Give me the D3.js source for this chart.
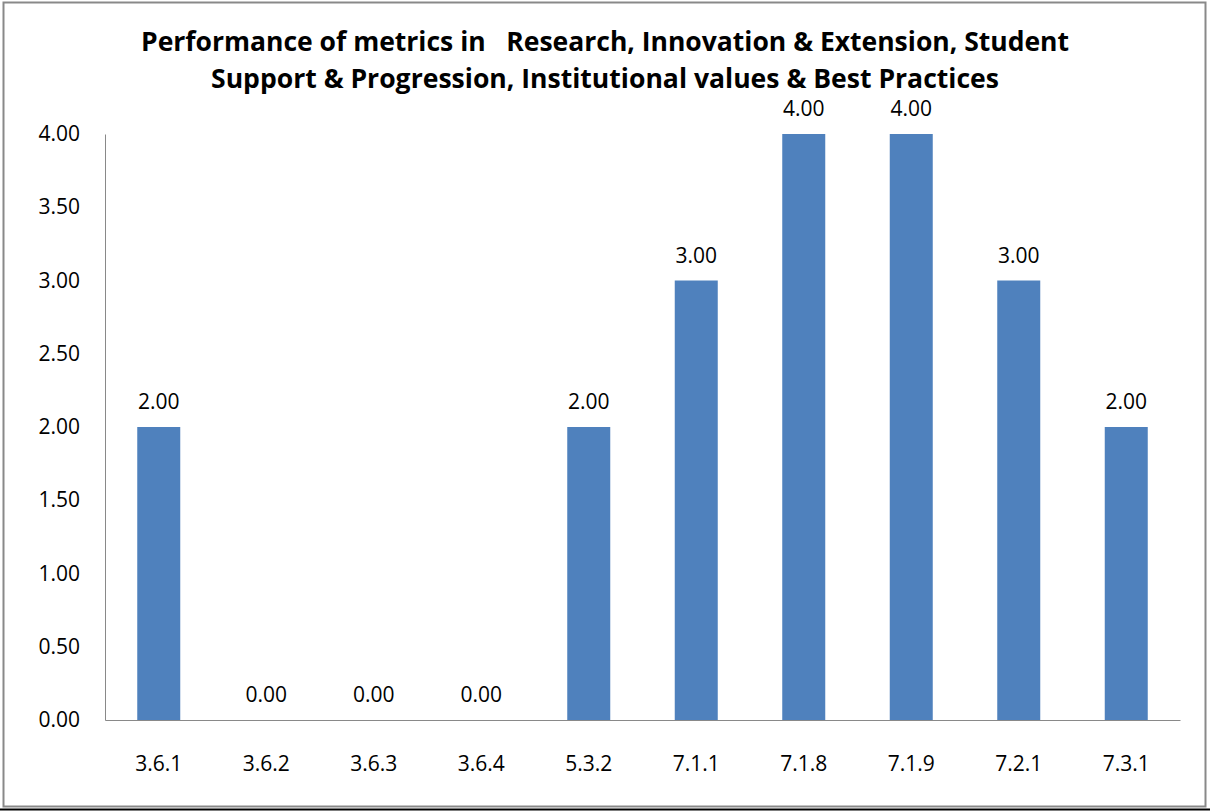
<!DOCTYPE html>
<html>
<head>
<meta charset="utf-8">
<script src="https://cdn.jsdelivr.net/npm/d3@7"></script>
<style>
  body { margin: 0; background: #fff; }
  text { font-family: "Open Sans", sans-serif; fill: #000; }
</style>
</head>
<body>
<div id="chart"></div>
<script>
const categories = ["3.6.1", "3.6.2", "3.6.3", "3.6.4", "5.3.2", "7.1.1", "7.1.8", "7.1.9", "7.2.1", "7.3.1"];
const values = [2, 0, 0, 0, 2, 3, 4, 4, 3, 2];
const yTicks = [0, 0.5, 1, 1.5, 2, 2.5, 3, 3.5, 4];
const titleLines = [
  "Performance of metrics in \u00a0\u00a0Research, Innovation & Extension, Student",
  "Support & Progression, Institutional values & Best Practices"
];

const width = 1210, height = 811;
const plot = { left: 105, right: 1180, top: 134, bottom: 720 };

const svg = d3.select("#chart").append("svg")
  .attr("width", width)
  .attr("height", height);

// outer border
svg.append("rect")
  .attr("x", 3.5).attr("y", 2.5)
  .attr("width", 1202).attr("height", 804)
  .attr("fill", "#fff")
  .attr("stroke", "#898989")
  .attr("stroke-width", 2);
svg.append("line")
  .attr("x1", 0).attr("x2", width)
  .attr("y1", 809.5).attr("y2", 809.5)
  .attr("stroke", "#000").attr("stroke-width", 2);

// title
svg.append("g").selectAll("text")
  .data(titleLines)
  .join("text")
  .attr("x", 605)
  .attr("y", (d, i) => 51 + i * 37)
  .attr("text-anchor", "middle")
  .style("font-size", "26px")
  .style("font-weight", "bold")
  .text(d => d)
  .each(function (d, i) {
    const target = i === 0 ? 928 : 788;
    d3.select(this).attr("textLength", target).attr("lengthAdjust", "spacingAndGlyphs");
  });

const x = d3.scaleBand()
  .domain(categories)
  .range([plot.left, plot.right])
  .paddingInner(0.6)
  .paddingOuter(0.3);

const y = d3.scaleLinear()
  .domain([0, 4])
  .range([plot.bottom, plot.top]);

// y axis
const yAxis = svg.append("g")
  .attr("transform", `translate(${plot.left},0)`)
  .call(d3.axisLeft(y).tickValues(yTicks).tickFormat(d3.format(".2f")).tickSize(0).tickPadding(25));
yAxis.select(".domain").attr("stroke", "#898989");
yAxis.selectAll("text").style("font-size", "21px").attr("font-family", null);

// x axis
const xAxis = svg.append("g")
  .attr("transform", `translate(0,${plot.bottom})`)
  .call(d3.axisBottom(x).tickSize(0).tickPadding(36));
xAxis.select(".domain").attr("stroke", "#898989");
xAxis.selectAll("text").style("font-size", "21px").attr("font-family", null);

// bars
svg.append("g").selectAll("rect")
  .data(values)
  .join("rect")
  .attr("x", (d, i) => x(categories[i]))
  .attr("width", x.bandwidth())
  .attr("y", d => y(d))
  .attr("height", d => plot.bottom - y(d))
  .attr("fill", "#4f81bd");

// value labels
svg.append("g").selectAll("text")
  .data(values)
  .join("text")
  .attr("x", (d, i) => x(categories[i]) + x.bandwidth() / 2)
  .attr("y", d => y(d) - 18)
  .attr("text-anchor", "middle")
  .style("font-size", "21px")
  .text(d => d3.format(".2f")(d));
</script>
</body>
</html>
